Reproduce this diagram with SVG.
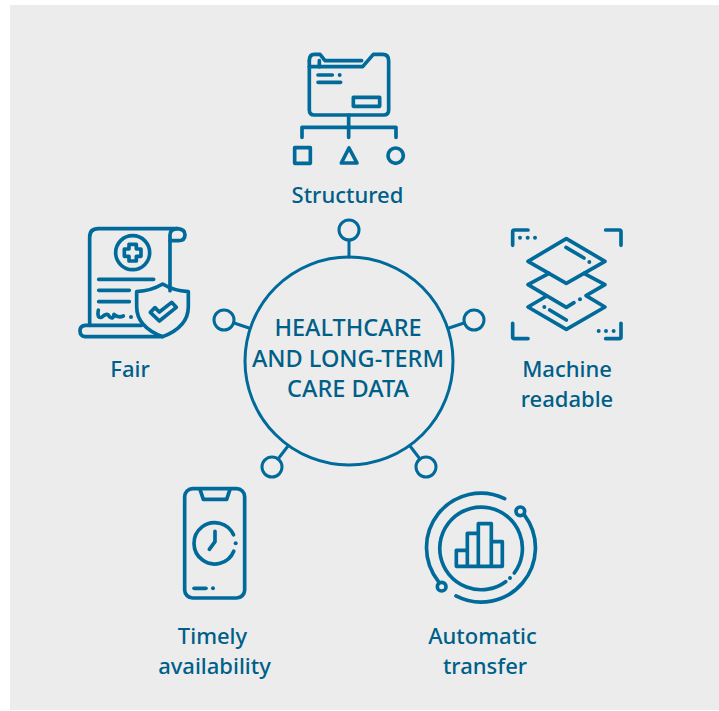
<svg xmlns="http://www.w3.org/2000/svg" width="719" height="711" viewBox="0 0 719 711">
<style>
.l{fill:none;stroke:#006a9a;stroke-linecap:round;stroke-linejoin:round}
.i{stroke-width:11}
.c{stroke-width:3}
.d{fill:#006a9a;stroke:none}
text{font-family:"Noto Sans","Open Sans",sans-serif;font-weight:500;fill:#005f88;text-anchor:middle}
.t{font-size:22px}
.m{font-size:23.500px}
</style>
<rect width="719" height="711" fill="#fff"/>
<rect x="10" y="5" width="709" height="705" fill="#ececec"/>
<g id="connectors" class="l c">
<path d="M349 240V257"/>
<path d="M234 323L249 328"/>
<path d="M464 323L449 328"/>
<path d="M278 459L288 446"/>
<path d="M420 459L410 446"/>
</g>
<g id="hub">
<circle class="l c" cx="349" cy="361" r="104"/>
<circle class="l c" cx="349" cy="230" r="10"/>
<circle class="l c" cx="224" cy="320" r="10"/>
<circle class="l c" cx="474" cy="320" r="10"/>
<circle class="l c" cx="272" cy="467" r="10"/>
<circle class="l c" cx="426" cy="467" r="10"/>
<text class="m" x="348" y="336">HEALTHCARE</text>
<text class="m" x="348" y="367">AND LONG-TERM</text>
<text class="m" x="348" y="397">CARE DATA</text>
</g>
<g id="structured">
<g class="l i" transform="translate(280 40) scale(.3333)">
<path d="M88 62V210Q88 225 103 225H311Q326 225 326 210V62Q326 43 308 43H280L248 80H118V62"/>
<path d="M88 62Q88 43 103 43H120L135 62H245"/>
<path d="M88 80H118"/>
<path d="M114 105H157M114 127H182"/>
<rect x="220" y="172" width="79" height="27"/>
<path d="M206 225V292M66 292V262H348V292"/>
<rect x="44" y="323" width="47" height="47"/>
<path d="M207 324L231 369H184Z"/>
<circle cx="347" cy="347" r="23"/>
<circle class="d" cx="179" cy="105" r="6"/>
</g>
<text class="t" x="347.500" y="203">Structured</text>
</g>
<g id="machine-readable">
<g class="l i" transform="translate(500 220) scale(.3333)">
<path d="M38 76V35Q38 30 43 30H84M317 30H358Q363 30 363 35V76M38 310V352Q38 356 43 356H84M317 356H358Q363 356 363 352V310"/>
<path d="M199 56L315 124L199 190L84 124Z"/>
<path d="M198 82L252 114"/>
<path d="M147 160L84 194L199 262L222 248M252 160L315 194L258 227L315 261L199 328L84 261L140 228"/>
<path d="M149 270L199 300"/>
<circle class="d" cx="60" cy="53" r="6"/><circle class="d" cx="83" cy="53" r="6"/><circle class="d" cx="105" cy="53" r="6"/>
<circle class="d" cx="296" cy="333" r="6"/><circle class="d" cx="318" cy="333" r="6"/><circle class="d" cx="341" cy="333" r="6"/>
<circle class="d" cx="268" cy="126" r="6"/><circle class="d" cx="240" cy="238" r="6"/><circle class="d" cx="133" cy="261" r="6"/>
</g>
<text class="t" x="567" y="377">Machine</text>
<text class="t" x="567" y="407">readable</text>
</g>
<g id="fair">
<g class="l i" transform="translate(70 220) scale(.3333)">
<path d="M59 316V52Q59 26 85 26H322Q345 28 345 44Q345 62 325 62H300"/>
<path d="M322 26Q300 28 300 44V212"/>
<circle cx="188" cy="98" r="51"/>
<path d="M177 73H199V87H213V109H199V123H177V109H163V87H177Z"/>
<path d="M86 178H251M86 211H178M86 245H178"/>
<path d="M85 270Q80 296 95 292Q112 275 118 290Q130 300 132 283Q145 295 160 288"/>
<circle class="d" cx="183" cy="291" r="6"/>
<path d="M278 192Q310 212 355 215V260Q355 320 278 350Q200 320 200 260V215Q245 212 278 192Z"/>
<path d="M241 277L255 263L268 276L305 247L319 262L268 303Z"/>
<path d="M215 316H45Q30 318 30 332Q30 348 45 350H278"/>
</g>
<text class="t" x="130" y="377">Fair</text>
</g>
<g id="timely-availability">
<g class="l i" transform="translate(170 480) scale(.3333)">
<rect x="44" y="26" width="180" height="328" rx="24"/>
<path d="M90 28L100 58H170L180 28"/>
<path d="M135 154V185L118 208"/>
<path d="M190.600 164.600A62 62 0 1 0 191.300 213.700"/>
<path d="M72 325H108"/>
<circle class="d" cx="197" cy="190" r="6"/>
<circle class="d" cx="129" cy="325" r="6"/>
</g>
<text class="t" x="212.500" y="644">Timely</text>
<text class="t" x="214.500" y="674">availability</text>
</g>
<g id="automatic-transfer">
<g class="l i" transform="translate(415 485) scale(.3333)">
<path d="M269 41A163 163 0 0 0 70.500 289.700"/>
<circle cx="80" cy="305" r="13"/>
<circle cx="316" cy="79" r="13"/>
<path d="M329 91A163 163 0 0 1 123 333"/>
<path d="M298 264A124 124 0 1 0 272 290"/>
<circle class="d" cx="285" cy="279" r="6"/>
<path d="M124 244V196H157V244M157 196V145H190V244M190 116H229V244M229 170H262V244H124M190 145V116"/>
</g>
<text class="t" x="482.500" y="644">Automatic</text>
<text class="t" x="485" y="674">transfer</text>
</g>
</svg>
